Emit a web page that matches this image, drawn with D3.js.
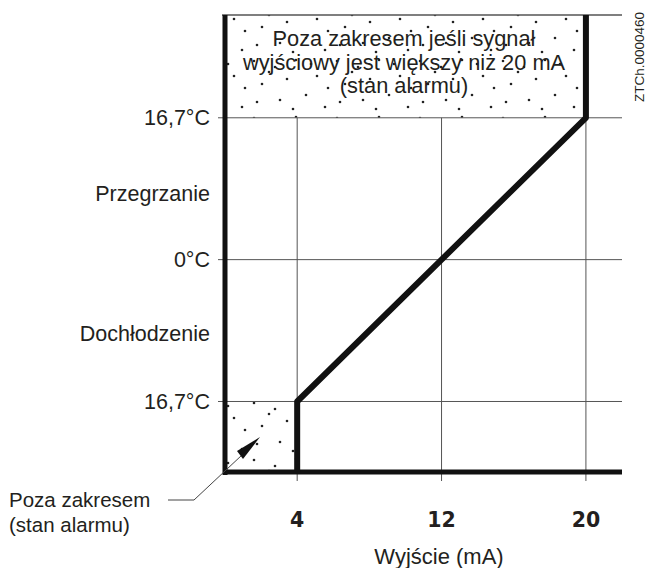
<!DOCTYPE html>
<html>
<head>
<meta charset="utf-8">
<script src="https://cdn.jsdelivr.net/npm/d3@7"></script>
<style>
  body { margin: 0; background: #fff; }
  text { font-family: "Liberation Sans", Arial, sans-serif; fill: #231f20; }
</style>
</head>
<body>
<svg id="chart" width="656" height="568"></svg>
<script>
// output current (mA) vs temperature offset (°C)
const xTicks = [4, 12, 20];
const yTicks = [16.7, 0, -16.7];
const yTickLabels = ["16,7°C", "0°C", "16,7°C"];
const zoneLabels = ["Przegrzanie", "Dochłodzenie"];
const zoneValues = [7.8, -8.7];
const signalX = [4, 4, 20, 20];
const signalY = [-25, -16.7, 16.7, 28.8];

const svg = d3.select("#chart");

const x = d3.scaleLinear().domain([0, 22]).range([225, 622]);
const y = d3.scaleLinear().domain([-25, 28.8]).range([472, 15]);

// stipple pattern for the out of range zones
const defs = svg.append("defs");
const pat = defs.append("pattern")
    .attr("id", "dots")
    .attr("patternUnits", "userSpaceOnUse")
    .attr("width", 83).attr("height", 57);
pat.append("rect").attr("width", 83).attr("height", 57).attr("fill", "#fff");
const dotPos = [[5, 4], [26, 10], [47, 3], [68, 19], [13, 27], [38, 22], [57, 38], [8, 45], [31, 43], [76, 50], [20, 15], [62, 7], [44, 52], [79, 31]];
pat.selectAll("circle").data(dotPos).enter().append("circle")
    .attr("cx", d => d[0]).attr("cy", d => d[1])
    .attr("r", 1.3).attr("fill", "#222");

svg.append("rect")
    .attr("x", x(0)).attr("y", y(28.8))
    .attr("width", x(20) - x(0)).attr("height", y(16.7) - y(28.8))
    .attr("fill", "url(#dots)");
svg.append("rect")
    .attr("x", x(0)).attr("y", y(-16.7))
    .attr("width", x(4) - x(0)).attr("height", y(-25) - y(-16.7))
    .attr("fill", "url(#dots)");

// grid
const grid = svg.append("g").attr("stroke", "#555").attr("stroke-width", 1);
grid.selectAll(".h").data(yTicks).enter().append("line")
    .attr("x1", x(0) - 7).attr("x2", x(22))
    .attr("y1", d => y(d)).attr("y2", d => y(d));
grid.selectAll(".v").data(xTicks).enter().append("line")
    .attr("x1", d => x(d)).attr("x2", d => x(d))
    .attr("y1", y(16.7)).attr("y2", y(-25) + 9);
grid.append("line")
    .attr("x1", x(0) - 3).attr("x2", x(22))
    .attr("y1", y(28.8)).attr("y2", y(28.8))
    .attr("stroke-width", 1.5);

// axes
svg.append("line")
    .attr("x1", x(0)).attr("x2", x(0))
    .attr("y1", y(28.8)).attr("y2", y(-25) + 3)
    .attr("stroke", "#111").attr("stroke-width", 5);
svg.append("line")
    .attr("x1", x(0) - 2).attr("x2", x(22))
    .attr("y1", y(-25)).attr("y2", y(-25))
    .attr("stroke", "#111").attr("stroke-width", 5);

// output signal
const line = d3.line().x(d => x(d[0])).y(d => y(d[1]));
svg.append("path")
    .datum(d3.zip(signalX, signalY))
    .attr("d", line)
    .attr("fill", "none")
    .attr("stroke", "#111")
    .attr("stroke-width", 6)
    .attr("stroke-linejoin", "round");

// y labels
svg.selectAll(".yl").data(yTicks).enter().append("text")
    .attr("x", 210).attr("y", d => y(d))
    .attr("dy", "0.35em")
    .attr("text-anchor", "end")
    .attr("font-size", 21.5)
    .text((d, i) => yTickLabels[i]);
svg.selectAll(".zl").data(zoneValues).enter().append("text")
    .attr("x", 210).attr("y", d => y(d))
    .attr("dy", "0.35em")
    .attr("text-anchor", "end")
    .attr("font-size", 21.5)
    .text((d, i) => zoneLabels[i]);

// x labels
svg.selectAll(".xl").data(xTicks).enter().append("text")
    .attr("x", d => x(d)).attr("y", 527)
    .attr("text-anchor", "middle")
    .attr("font-size", 20.5)
    .attr("font-weight", "bold")
    .style("font-family", "'DejaVu Sans', sans-serif")
    .text(d => d);
svg.append("text")
    .attr("x", 439).attr("y", 564)
    .attr("text-anchor", "middle")
    .attr("font-size", 22)
    .text("Wyjście (mA)");

// top note
const note = ["Poza zakresem jeśli sygnał", "wyjściowy jest większy niż 20 mA", "(stan alarmu)"];
svg.selectAll(".note").data(note).enter().append("text")
    .attr("x", 404).attr("y", (d, i) => 46 + i * 23.5)
    .attr("text-anchor", "middle")
    .attr("font-size", 21.8)
    .text(d => d);

// bottom-left callout
svg.append("text").attr("x", 9).attr("y", 507).attr("font-size", 20.5).text("Poza zakresem");
svg.append("text").attr("x", 9).attr("y", 532).attr("font-size", 20.5).text("(stan alarmu)");
svg.append("path")
    .attr("d", "M168,500 L194,500 L242,455")
    .attr("fill", "none").attr("stroke", "#444").attr("stroke-width", 1);
svg.append("path")
    .attr("d", "M260,437 L243,459 L237,451 Z")
    .attr("fill", "#111");

svg.append("text")
    .attr("transform", "translate(644,57) rotate(-90)")
    .attr("text-anchor", "middle")
    .attr("font-size", 13.5)
    .text("ZTCh.0000460");
</script>
</body>
</html>
